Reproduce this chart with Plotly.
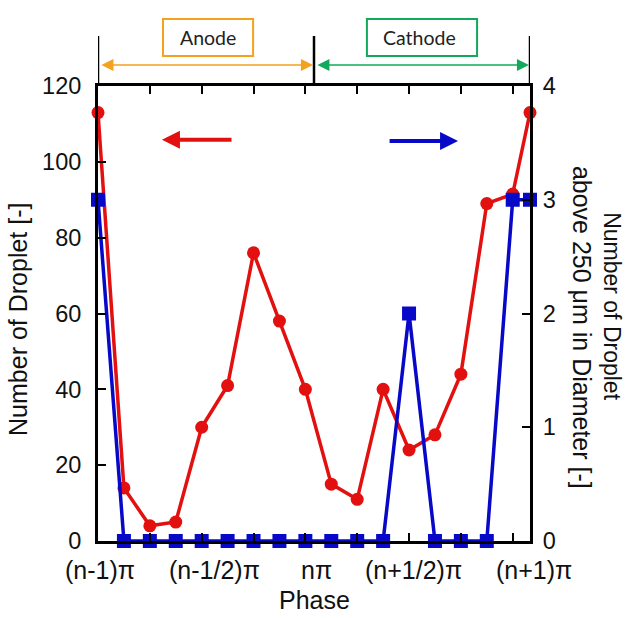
import plotly.graph_objects as go

# ---- data ----
# phase measured in units of pi from (n-1)pi
phase = [0.00, 0.12, 0.24, 0.36, 0.48, 0.60, 0.72, 0.84, 0.96, 1.08,
         1.20, 1.32, 1.44, 1.56, 1.68, 1.80, 1.92, 2.00]
droplets = [113, 14, 4, 5, 30, 41, 76, 58, 40, 15, 11, 40, 24, 28, 44, 89, 91.5, 113]
droplets_large = [3, 0, 0, 0, 0, 0, 0, 0, 0, 0, 0, 0, 2, 0, 0, 0, 3, 3]
phase_ticks = [0.24, 0.48, 0.72, 0.96, 1.20, 1.44, 1.68, 1.92]
phase_labels = ["(n-1)π", "(n-1/2)π", "nπ", "(n+1/2)π", "(n+1)π"]
phase_label_pos = [0.01, 0.54, 1.01, 1.46, 2.02]
left_ticks = [0, 20, 40, 60, 80, 100, 120]
right_ticks = [0, 1, 2, 3, 4]

RED = "#E31010"
BLUE = "#0808C8"
ORANGE = "#F4A11D"
GREEN = "#12AA5A"
FONT = "Liberation Sans"
TXT = "#111"

fig = go.Figure()
fig.add_trace(go.Scatter(
    x=phase, y=droplets, mode="lines+markers",
    line=dict(color=RED, width=3.5),
    marker=dict(symbol="circle", size=13, color=RED),
    cliponaxis=False, yaxis="y", showlegend=False))
fig.add_trace(go.Scatter(
    x=phase, y=droplets_large, mode="lines+markers",
    line=dict(color=BLUE, width=3.5),
    marker=dict(symbol="square", size=14, color=BLUE),
    cliponaxis=False, yaxis="y2", showlegend=False))

axis_common = dict(showgrid=False, zeroline=False, showline=True,
                   linecolor="black", linewidth=3, ticks="inside",
                   tickcolor="black", tickwidth=1.5)
yfont = dict(family=FONT, size=23.5, color=TXT)
lfont = dict(family=FONT, size=25, color=TXT)

fig.update_layout(
    width=633, height=618,
    margin=dict(l=98, r=103, t=86, b=77),
    paper_bgcolor="white", plot_bgcolor="white",
    font=dict(family=FONT, size=23, color=TXT),
    xaxis=dict(range=[0, 2.0], tickvals=phase_ticks, showticklabels=False,
               mirror="ticks", ticklen=8, **axis_common),
    yaxis=dict(range=[0, 120], tickvals=left_ticks, ticklen=8,
               ticklabelstandoff=9, tickfont=yfont, **axis_common),
    yaxis2=dict(range=[0, 4], tickvals=right_ticks, ticklen=8, overlaying="y",
                side="right", anchor="x", ticklabelstandoff=5, tickfont=yfont,
                **axis_common),
)

ann = []
for lab, pos in zip(phase_labels, phase_label_pos):
    ann.append(dict(x=pos / 2.0, y=-0.064, xref="paper", yref="paper", text=lab,
                    showarrow=False, xanchor="center", yanchor="middle",
                    font=lfont))
ann.append(dict(x=0.5, y=-0.13, xref="paper", yref="paper", text="Phase",
                showarrow=False, xanchor="center", yanchor="middle", font=lfont))
ann.append(dict(x=-0.185, y=0.486, xref="paper", yref="paper",
                text="Number of Droplet [-]", textangle=-90, showarrow=False,
                xanchor="center", yanchor="middle", font=lfont))
ann.append(dict(x=1.190, y=0.516, xref="paper", yref="paper",
                text="Number of Droplet",
                textangle=90, showarrow=False, xanchor="center", yanchor="middle",
                font=dict(family=FONT, size=23, color=TXT)))
ann.append(dict(x=1.121, y=0.470, xref="paper", yref="paper",
                text="above 250 μm in Diameter [-]",
                textangle=90, showarrow=False, xanchor="center", yanchor="middle",
                font=dict(family=FONT, size=25, color=TXT)))
# direction arrows
ann.append(dict(x=0.296, y=105.8, xref="x", yref="y", ax=0.625, ay=105.8,
                axref="x", ayref="y", text="", showarrow=True,
                arrowhead=2, arrowsize=0.9, arrowwidth=4, arrowcolor=RED))
ann.append(dict(x=1.667, y=105.5, xref="x", yref="y", ax=1.343, ay=105.5,
                axref="x", ayref="y", text="", showarrow=True,
                arrowhead=2, arrowsize=0.9, arrowwidth=4, arrowcolor=BLUE))
# anode / cathode span arrows
py = lambda p: (541 - p) / 455.0
ann.append(dict(x=0.995, y=py(65), xref="x", yref="paper", ax=-213, ay=0,
                text="", showarrow=True, arrowhead=2, startarrowhead=2,
                arrowside="end+start", arrowsize=1.6, arrowwidth=1.5,
                arrowcolor=ORANGE))
ann.append(dict(x=1.995, y=py(65), xref="x", yref="paper", ax=-213, ay=0,
                text="", showarrow=True, arrowhead=2, startarrowhead=2,
                arrowside="end+start", arrowsize=1.6, arrowwidth=1.5,
                arrowcolor=GREEN))
ann.append(dict(x=0.51, y=py(37.5), xref="x", yref="paper", text="Anode",
                showarrow=False, xanchor="center", yanchor="middle",
                font=dict(family="Lato", size=19.5, color="#222")))
ann.append(dict(x=1.49, y=py(37.5), xref="x", yref="paper", text="Cathode",
                showarrow=False, xanchor="center", yanchor="middle",
                font=dict(family="Lato", size=19.5, color="#222")))
fig.update_layout(annotations=ann)

shapes = []
for xv in [0.0, 1.0, 2.0]:
    shapes.append(dict(type="line", x0=xv, x1=xv, y0=1.0, y1=py(36),
                       xref="x", yref="paper", line=dict(color="black", width=2.5)))
shapes.append(dict(type="rect", x0=0.301, x1=0.718, y0=py(56), y1=py(19),
                   xref="x", yref="paper", line=dict(color=ORANGE, width=2)))
shapes.append(dict(type="rect", x0=1.245, x1=1.755, y0=py(56), y1=py(19),
                   xref="x", yref="paper", line=dict(color=GREEN, width=2)))
fig.update_layout(shapes=shapes)

fig.write_html("out.html")
